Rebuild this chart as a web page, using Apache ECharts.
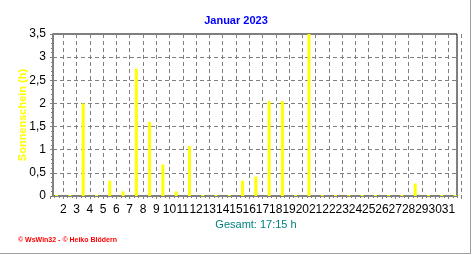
<!DOCTYPE html>
<html>
<head>
<meta charset="utf-8">
<script src="https://cdn.jsdelivr.net/npm/echarts@6/dist/echarts.min.js"></script>
<style>
html,body{margin:0;padding:0;background:#fff;}
#wrap{position:absolute;left:0;top:0;width:470px;height:253px;border-right:1px solid #a0a0a0;border-bottom:1px solid #a0a0a0;}
#chart{position:absolute;left:0;top:0;width:472px;height:255px;}
</style>
</head>
<body>
<div id="wrap"></div>
<div id="chart"></div>
<script>
// ---- data ----
const days = ['1','2','3','4','5','6','7','8','9','10','11','12','13','14','15','16','17','18','19','20','21','22','23','24','25','26','27','28','29','30','31'];
const sunshine = [0,0,2.0,0,0.33,0.1,2.75,1.6,0.68,0.1,1.08,0,0,0,0.33,0.42,2.05,2.05,0,3.5,0,0,0,0,0,0,0,0.27,0,0,0];
const xTickLabels = ['2','3','4','5','6','7','8','9','10','11','12','13','14','15','16','17','18','19','20','21','22','23','24','25','26','27','28','29','30','31'];
const yTickLabels = ['0','0,5','1','1,5','2','2,5','3','3,5'];
const titleText = 'Januar 2023';
const totalText = 'Gesamt: 17:15 h';
const yName = 'Sonnenschein (h)';
const footerText = '\u00A9 WsWin32 - \u00A9 Heiko Blödern';

const chart = echarts.init(document.getElementById('chart'), null, {renderer:'canvas'});
const FONT = 'Liberation Sans, Arial, sans-serif';
const option = {
  animation: false,
  backgroundColor: 'transparent',
  title: {
    text: titleText, left: 'center', top: 10,
    textStyle: {color:'#0000ff', fontSize: 11, fontWeight:'bold', fontFamily: FONT}
  },
  grid: [
    {left: 50, right: 10.3, top: 34, height: 162, containLabel:false},
    {left: 53, right: 15, top: 34, height: 162, show: true, borderColor:'#000', borderWidth:1, backgroundColor:'transparent'}
  ],
  xAxis: [
    { // bars, vertical grid lines
      type:'category', data: days, gridIndex:0, boundaryGap:true,
      axisLine:{show:false}, axisTick:{show:false}, axisLabel:{show:false},
      splitLine:{show:true, interval: function(i){ return i>=1 && i<=30; }, lineStyle:{color:'#808080', type:[4,3], width:1}}
    },
    { // tick labels and ticks at day boundaries
      type:'value', gridIndex:0, min:0, max:31, interval:1, position:'bottom',
      axisLine:{show:false},
      axisTick:{show:true, length:3, lineStyle:{color:'#808080'}},
      minorTick:{show:true, splitNumber:3, length:2, lineStyle:{color:'#808080'}},
      splitLine:{show:false},
      axisLabel:{show:true, margin:8, color:'#000', fontSize:12, fontFamily:FONT,
        formatter: function(v){ return (v>=1 && v<=30) ? xTickLabels[v-1] : ''; }}
    },
    { // frame bottom axis line
      type:'value', gridIndex:1, min:0, max:1, position:'bottom',
      axisLine:{show:true, lineStyle:{color:'#808080', width:2}},
      axisTick:{show:false}, axisLabel:{show:false}, splitLine:{show:false}
    }
  ],
  yAxis: [
    {type:'value', gridIndex:0, min:0, max:3.5, show:false},
    {
      type:'value', gridIndex:1, min:0, max:3.5, interval:0.5,
      name: yName, nameLocation:'middle', nameGap: 25, nameRotate: 90, nameMoveOverlap: false,
      nameTextStyle:{color:'#ffff00', fontSize:11, fontWeight:'bold', fontFamily:FONT},
      axisLine:{show:true, lineStyle:{color:'#808080', width:2}},
      axisTick:{show:true, length:3, lineStyle:{color:'#808080'}},
      minorTick:{show:true, splitNumber:5, length:2, lineStyle:{color:'#808080'}},
      splitLine:{show:true, lineStyle:{color:'#808080', type:[4,3], width:1}},
      axisLabel:{margin:7, color:'#000', fontSize:12, fontFamily:FONT,
        formatter: function(v){ return yTickLabels[Math.round(v/0.5)]; }}
    }
  ],
  series: [{
    type:'bar', name: yName, data: sunshine, xAxisIndex:0, yAxisIndex:0,
    barWidth:3, barMinHeight:1, itemStyle:{color:'#ffff00'}, z:5
  }],
  graphic: [
    {type:'text', x:256, y:219, style:{text: totalText, fill:'#008080', font:'11px Liberation Sans, Arial, sans-serif', textAlign:'center'}},
    {type:'text', x:18, y:237, style:{text: footerText, fill:'#ff0000', font:'bold 7px Liberation Sans, Arial, sans-serif', textAlign:'left'}}
  ]
};
chart.setOption(option);
</script>
</body>
</html>
